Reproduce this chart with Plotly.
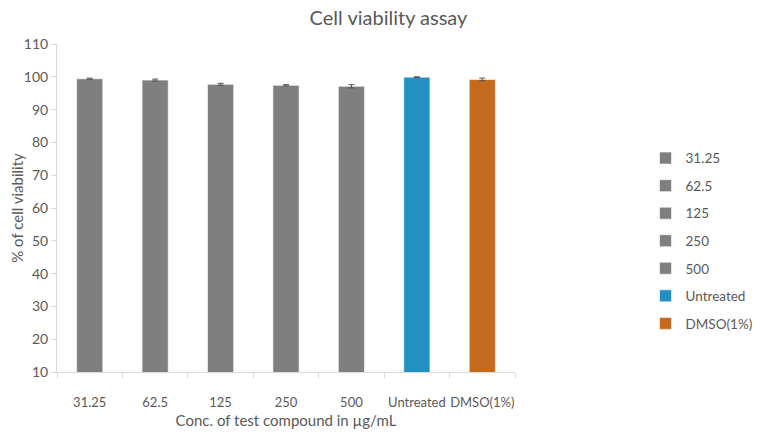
import plotly.graph_objects as go

categories = ["31.25", "62.5", "125", "250", "500", "Untreated", "DMSO(1%)"]
viability = [99.4, 99.0, 97.7, 97.4, 97.1, 99.9, 99.2]
errors = [0.2, 0.3, 0.3, 0.2, 0.5, 0.1, 0.4]
colors = ["#7f7f7f", "#7f7f7f", "#7f7f7f", "#7f7f7f", "#7f7f7f", "#248fc1", "#c5691e"]

font_family = "Lato, 'Open Sans', sans-serif"
text_grey = "#595959"

fig = go.Figure()
for i, cat in enumerate(categories):
    fig.add_trace(go.Bar(
        x=[cat],
        y=[viability[i]],
        name=cat,
        legendgroup=cat,
        marker=dict(color=colors[i], line=dict(color="rgba(255,255,255,0.6)", width=1)),
        width=0.4,
        error_y=dict(type="data", array=[errors[i]], color="#555555", thickness=1, width=3),
    ))

# page body has an 8px margin, so the figure sits 8px right/down in the window
fig.update_layout(
    width=761,
    height=434,
    barmode="overlay",
    paper_bgcolor="white",
    plot_bgcolor="white",
    font=dict(family=font_family, color=text_grey, size=13),
    title=dict(text="Cell viability assay", x=0.5, xanchor="center", yref="container",
               y=0.978, yanchor="middle",
               font=dict(size=20, color=text_grey, family=font_family)),
    margin=dict(l=49, r=246, t=36, b=70),
    showlegend=True,
    legend=dict(x=1.285, xanchor="left", y=0.40, yanchor="middle", tracegroupgap=7,
                itemwidth=30, font=dict(size=13.5, color=text_grey)),
    xaxis=dict(
        type="category",
        categoryorder="array",
        categoryarray=categories,
        tickangle=0,
        automargin=False,
        showline=True, linecolor="#d9d9d9", linewidth=1,
        ticks="outside", tickson="boundaries", ticklen=5, tickcolor="#d9d9d9",
        tickfont=dict(size=13),
        ticklabelstandoff=18,
        title=dict(text="Conc. of test compound in µg/mL", font=dict(size=15, color=text_grey), standoff=6),
        showgrid=False,
    ),
    yaxis=dict(
        range=[10, 110],
        dtick=10,
        tick0=10,
        automargin=False,
        showline=True, linecolor="#d9d9d9", linewidth=1,
        ticks="outside", ticklen=5, tickcolor="#d9d9d9",
        tickfont=dict(size=14),
        showgrid=False, zeroline=False,
        title=dict(text="% of cell viability", font=dict(size=15, color=text_grey), standoff=4),
    ),
)

fig.write_html("out.html")
